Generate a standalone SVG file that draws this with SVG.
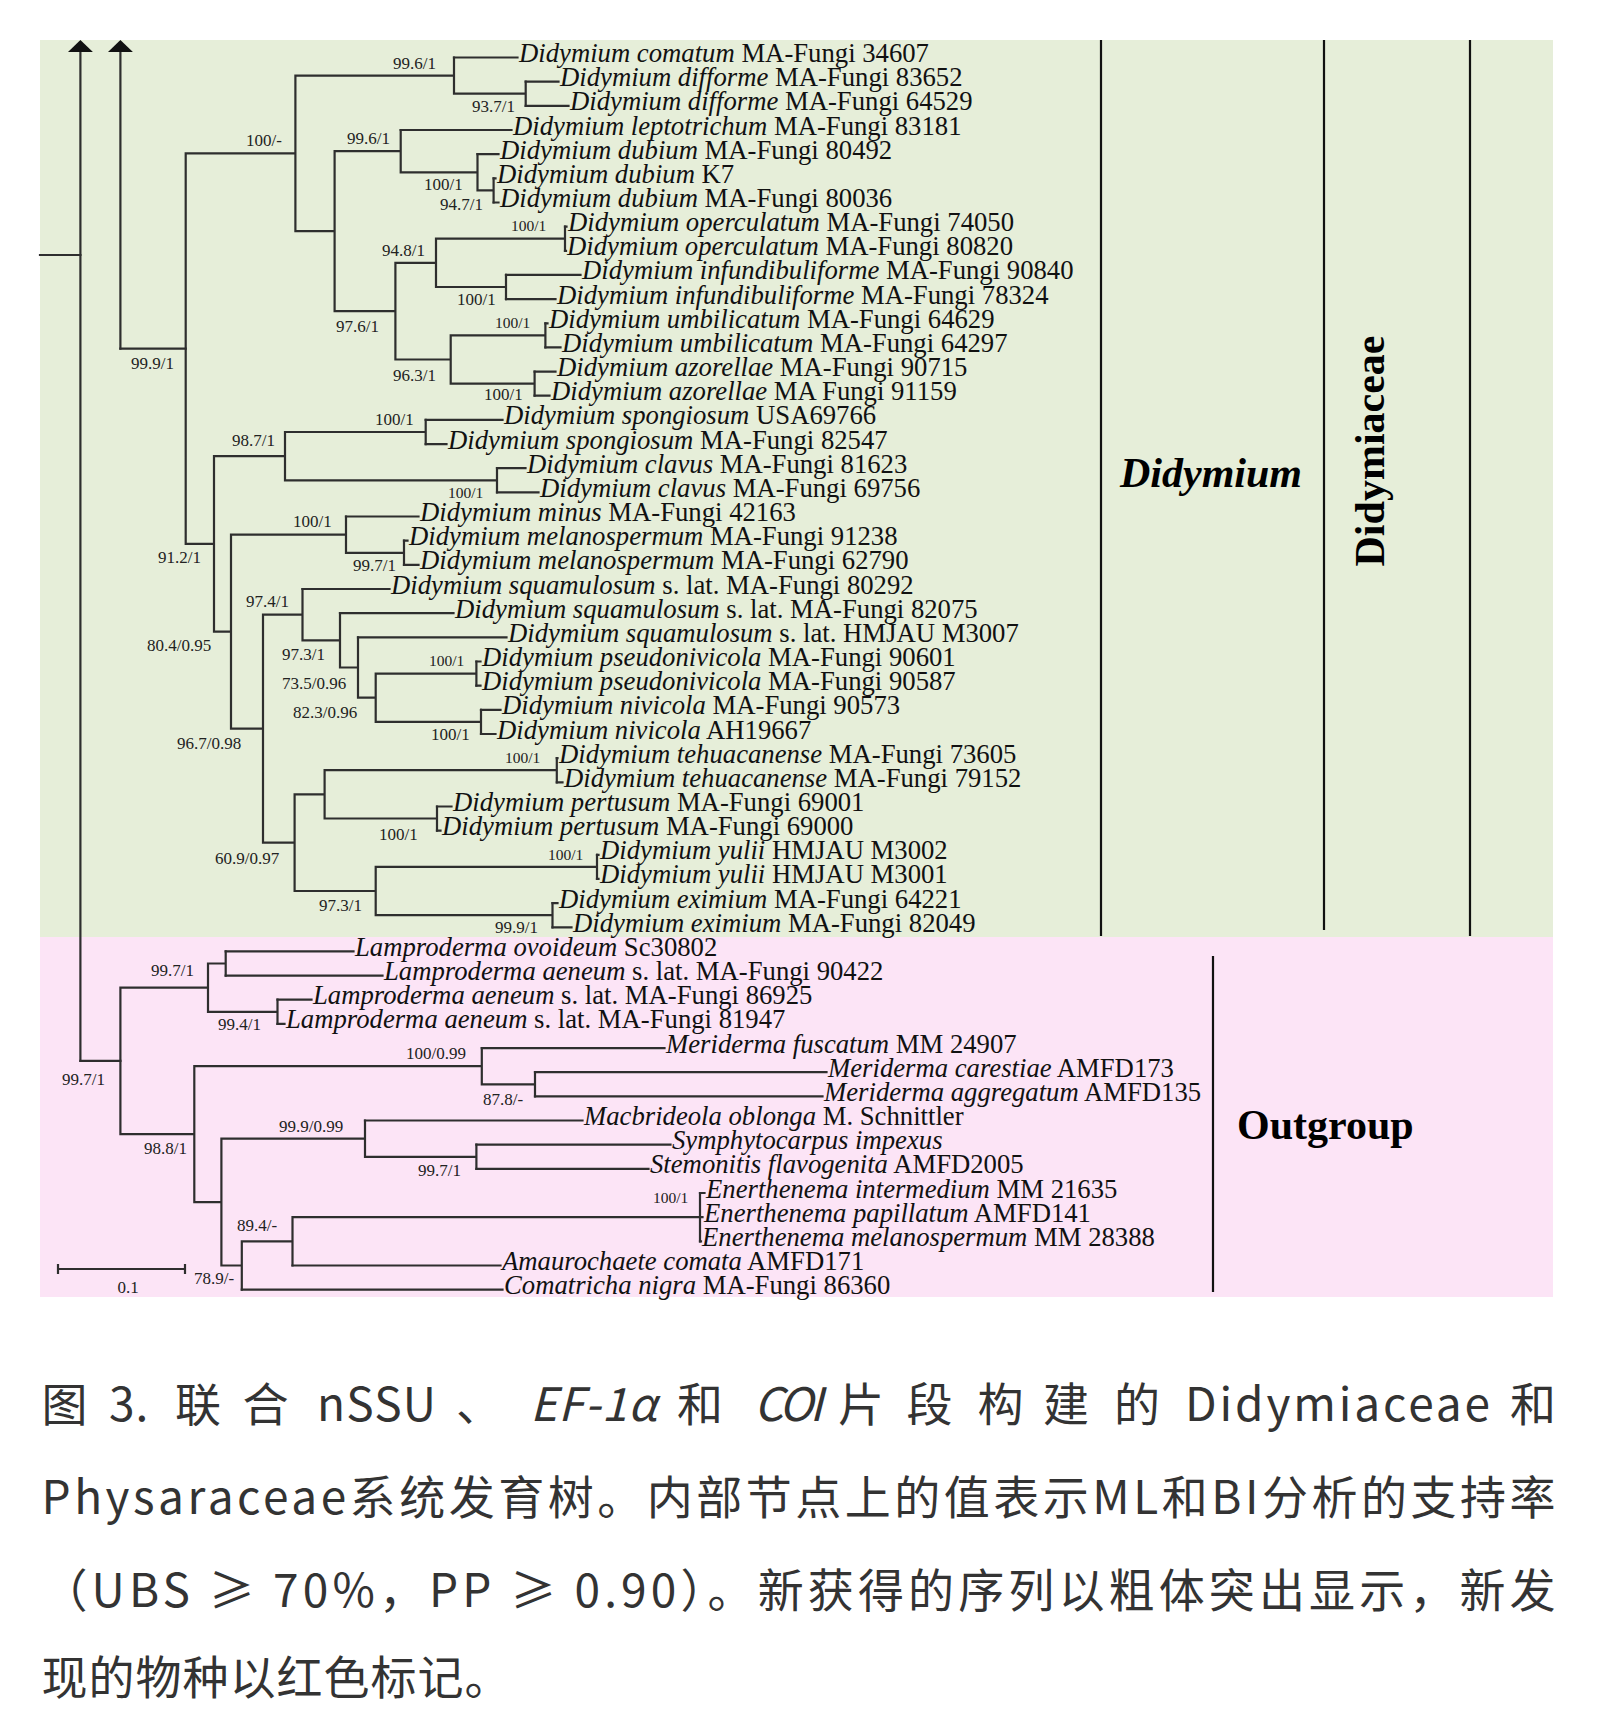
<svg xmlns="http://www.w3.org/2000/svg" width="1600" height="1712" viewBox="0 0 1600 1712">
<defs>
<style>
.br{fill:none;stroke:#2e2e2e;stroke-width:2.2;stroke-linecap:square}
.rl{fill:none;stroke:#111;stroke-width:2.2}
.lf{font-family:"Liberation Serif","Times New Roman",serif;font-size:26.7px;fill:#111}
.i{font-style:italic}
.sv{font-family:"Liberation Serif","Times New Roman",serif;font-size:17px;fill:#222}
.ss{font-size:15.5px}
.cl{font-family:"Liberation Serif","Times New Roman",serif;font-weight:bold;font-size:42px;fill:#000}
.cap{font-family:"Noto Sans CJK SC","Noto Sans",sans-serif;font-size:46px;fill:#333;letter-spacing:1px}
</style>
<marker id="arr" viewBox="0 0 12 25" refX="0" refY="12.5" markerWidth="12" markerHeight="25" markerUnits="userSpaceOnUse" orient="auto"><path d="M0 0L12 12.5L0 25z" fill="#111"/></marker>
</defs>
<rect x="0" y="0" width="1600" height="1712" fill="#fff"/>
<rect id="bg-didymium" x="40" y="40" width="1513" height="897" fill="#e6eed9"/>
<rect id="bg-outgroup" x="40" y="937" width="1513" height="360" fill="#fce4f6"/>

<g id="connectors">
<path class="br" marker-end="url(#arr)" d="M80.4 1060.9V52"/>
<path class="br" marker-end="url(#arr)" d="M120.4 348.7V52"/>
<path class="br" d="M40 255H80.4 M80.4 1060.9H120.4 M120.4 348.7H185.7"/>
<path class="br" d="
M525.7 81.7V105.8 M454 93.7H525.7
M454 57.5V93.7 M295.4 75.6H454
M493.6 178.3V202.5 M477.5 190.4H493.6
M477.5 154.1V190.4 M400.7 172.3H477.5
M400.7 130V172.3 M334.6 151.1H400.7
M565 226.6V250.8 M436 238.7H565
M506 274.9V299.1 M436 287H506
M436 238.7V287 M395.4 262.9H436
M545.4 323.3V347.4 M450.7 335.3H545.4
M534.6 371.6V395.7 M450.7 383.7H534.6
M450.7 335.3V383.7 M395.4 359.5H450.7
M395.4 262.9V359.5 M334.6 311.2H395.4
M334.6 151.1V311.2 M295.4 231.2H334.6
M295.4 75.6V231.2 M185.7 153.4H295.4
M425.7 419.9V444.1 M285 432H425.7
M497 468.2V492.4 M285 480.3H497
M285 432V480.3 M214 456.1H285
M404 540.7V564.9 M346 552.8H404
M346 516.5V552.8 M231 534.7H346
M476.4 661.5V685.7 M375.7 673.6H476.4
M481 709.8V734 M375.7 721.9H481
M375.7 673.6V721.9 M358 697.7H375.7
M358 637.3V697.7 M340 667.5H358
M340 613.2V667.5 M302.5 640.4H340
M302.5 589V640.4 M263 614.7H302.5
M556.8 758.1V782.3 M324.6 770.2H556.8
M437 806.5V830.6 M324.6 818.5H437
M324.6 770.2V818.5 M294.6 794.4H324.6
M597 854.8V878.9 M375.7 866.9H597
M552.5 903.1V927.3 M375.7 915.2H552.5
M375.7 866.9V915.2 M294.6 891H375.7
M294.6 794.4V891 M263 842.7H294.6
M263 614.7V842.7 M231 728.7H263
M231 534.7V728.7 M214 631.7H231
M214 456.1V631.7 M185.7 543.9H214
M185.7 153.4V543.9"/>
<path class="br" d="
M225.7 951.4V975.6 M208 963.5H225.7
M277.5 999.7V1023.9 M208 1011.8H277.5
M208 963.5V1011.8 M120.4 987.7H208
M535 1072.2V1096.4 M481.8 1084.3H535
M481.8 1048.1V1084.3 M194.3 1066.2H481.8
M476.4 1144.7V1168.9 M365 1156.8H476.4
M365 1120.5V1156.8 M221.4 1138.7H365
M700 1193V1241.3 M292.5 1217.2H700
M292.5 1217.2V1265.5 M241.8 1241.3H292.5
M241.8 1241.3V1289.7 M221.4 1265.5H241.8
M221.4 1138.7V1265.5 M194.3 1202.1H221.4
M194.3 1066.2V1202.1 M120.4 1134.1H194.3
M120.4 987.7V1134.1"/>
<path class="br" d="
M454 57.5H517.5 M525.7 81.7H558.5 M525.7 105.8H568.5 M400.7 130H511.5
M477.5 154.1H498.5 M493.6 178.3H495.5 M493.6 202.5H498.5 M565 226.6H566.5
M565 250.8H566 M506 274.9H580.5 M506 299.1H555.5 M545.4 323.3H547.5
M545.4 347.4H560.5 M534.6 371.6H555.5 M534.6 395.7H549.5 M425.7 419.9H502.5
M425.7 444.1H446.5 M497 468.2H525.5 M497 492.4H538.5 M346 516.5H418.5
M404 540.7H407.5 M404 564.9H418.5 M302.5 589H389.5 M340 613.2H453.5
M358 637.3H506.5 M476.4 661.5H480.5 M476.4 685.7H480.5 M481 709.8H500.5
M481 734H495.5 M556.8 758.1H557.5 M556.8 782.3H562.5 M437 806.5H451.5
M437 830.6H440.5 M597 854.8H598.5 M597 878.9H598.5 M552.5 903.1H557.5
M552.5 927.3H571.5 M225.7 951.4H353.5 M225.7 975.6H382.5 M277.5 999.7H311.5
M277.5 1023.9H284.5 M481.8 1048.1H664.5 M535 1072.2H826.5 M535 1096.4H822.5
M365 1120.5H582.5 M476.4 1144.7H670.5 M476.4 1168.9H648.5 M700 1193H704.5
M700 1217.2H702.5 M700 1241.3H701 M292.5 1265.5H500.5 M241.8 1289.7H502.5"/>
</g>

<g id="leaves" class="lf" transform="translate(0 -3.5)">
<g id="leaf-1"><text x="519" y="65.5"><tspan class="i">Didymium comatum</tspan> MA-Fungi 34607</text></g>
<g id="leaf-2"><text x="560" y="89.7"><tspan class="i">Didymium difforme</tspan> MA-Fungi 83652</text></g>
<g id="leaf-3"><text x="570" y="113.8"><tspan class="i">Didymium difforme</tspan> MA-Fungi 64529</text></g>
<g id="leaf-4"><text x="513" y="138"><tspan class="i">Didymium leptotrichum</tspan> MA-Fungi 83181</text></g>
<g id="leaf-5"><text x="500" y="162.1"><tspan class="i">Didymium dubium</tspan> MA-Fungi 80492</text></g>
<g id="leaf-6"><text x="497" y="186.3"><tspan class="i">Didymium dubium</tspan> K7</text></g>
<g id="leaf-7"><text x="500" y="210.5"><tspan class="i">Didymium dubium</tspan> MA-Fungi 80036</text></g>
<g id="leaf-8"><text x="568" y="234.6"><tspan class="i">Didymium operculatum</tspan> MA-Fungi 74050</text></g>
<g id="leaf-9"><text x="567" y="258.8"><tspan class="i">Didymium operculatum</tspan> MA-Fungi 80820</text></g>
<g id="leaf-10"><text x="582" y="282.9"><tspan class="i">Didymium infundibuliforme</tspan> MA-Fungi 90840</text></g>
<g id="leaf-11"><text x="557" y="307.1"><tspan class="i">Didymium infundibuliforme</tspan> MA-Fungi 78324</text></g>
<g id="leaf-12"><text x="549" y="331.3"><tspan class="i">Didymium umbilicatum</tspan> MA-Fungi 64629</text></g>
<g id="leaf-13"><text x="562" y="355.4"><tspan class="i">Didymium umbilicatum</tspan> MA-Fungi 64297</text></g>
<g id="leaf-14"><text x="557" y="379.6"><tspan class="i">Didymium azorellae</tspan> MA-Fungi 90715</text></g>
<g id="leaf-15"><text x="551" y="403.7"><tspan class="i">Didymium azorellae</tspan> MA Fungi 91159</text></g>
<g id="leaf-16"><text x="504" y="427.9"><tspan class="i">Didymium spongiosum</tspan> USA69766</text></g>
<g id="leaf-17"><text x="448" y="452.1"><tspan class="i">Didymium spongiosum</tspan> MA-Fungi 82547</text></g>
<g id="leaf-18"><text x="527" y="476.2"><tspan class="i">Didymium clavus</tspan> MA-Fungi 81623</text></g>
<g id="leaf-19"><text x="540" y="500.4"><tspan class="i">Didymium clavus</tspan> MA-Fungi 69756</text></g>
<g id="leaf-20"><text x="420" y="524.5"><tspan class="i">Didymium minus</tspan> MA-Fungi 42163</text></g>
<g id="leaf-21"><text x="409" y="548.7"><tspan class="i">Didymium melanospermum</tspan> MA-Fungi 91238</text></g>
<g id="leaf-22"><text x="420" y="572.9"><tspan class="i">Didymium melanospermum</tspan> MA-Fungi 62790</text></g>
<g id="leaf-23"><text x="391" y="597"><tspan class="i">Didymium squamulosum</tspan> s. lat. MA-Fungi 80292</text></g>
<g id="leaf-24"><text x="455" y="621.2"><tspan class="i">Didymium squamulosum</tspan> s. lat. MA-Fungi 82075</text></g>
<g id="leaf-25"><text x="508" y="645.3"><tspan class="i">Didymium squamulosum</tspan> s. lat. HMJAU M3007</text></g>
<g id="leaf-26"><text x="482" y="669.5"><tspan class="i">Didymium pseudonivicola</tspan> MA-Fungi 90601</text></g>
<g id="leaf-27"><text x="482" y="693.7"><tspan class="i">Didymium pseudonivicola</tspan> MA-Fungi 90587</text></g>
<g id="leaf-28"><text x="502" y="717.8"><tspan class="i">Didymium nivicola</tspan> MA-Fungi 90573</text></g>
<g id="leaf-29"><text x="497" y="742"><tspan class="i">Didymium nivicola</tspan> AH19667</text></g>
<g id="leaf-30"><text x="559" y="766.1"><tspan class="i">Didymium tehuacanense</tspan> MA-Fungi 73605</text></g>
<g id="leaf-31"><text x="564" y="790.3"><tspan class="i">Didymium tehuacanense</tspan> MA-Fungi 79152</text></g>
<g id="leaf-32"><text x="453" y="814.5"><tspan class="i">Didymium pertusum</tspan> MA-Fungi 69001</text></g>
<g id="leaf-33"><text x="442" y="838.6"><tspan class="i">Didymium pertusum</tspan> MA-Fungi 69000</text></g>
<g id="leaf-34"><text x="600" y="862.8"><tspan class="i">Didymium yulii</tspan> HMJAU M3002</text></g>
<g id="leaf-35"><text x="600" y="886.9"><tspan class="i">Didymium yulii</tspan> HMJAU M3001</text></g>
<g id="leaf-36"><text x="559" y="911.1"><tspan class="i">Didymium eximium</tspan> MA-Fungi 64221</text></g>
<g id="leaf-37"><text x="573" y="935.3"><tspan class="i">Didymium eximium</tspan> MA-Fungi 82049</text></g>
<g id="leaf-38"><text x="355" y="959.4"><tspan class="i">Lamproderma ovoideum</tspan> Sc30802</text></g>
<g id="leaf-39"><text x="384" y="983.6"><tspan class="i">Lamproderma aeneum</tspan> s. lat. MA-Fungi 90422</text></g>
<g id="leaf-40"><text x="313" y="1007.7"><tspan class="i">Lamproderma aeneum</tspan> s. lat. MA-Fungi 86925</text></g>
<g id="leaf-41"><text x="286" y="1031.9"><tspan class="i">Lamproderma aeneum</tspan> s. lat. MA-Fungi 81947</text></g>
<g id="leaf-42"><text x="666" y="1056.1"><tspan class="i">Meriderma fuscatum</tspan> MM 24907</text></g>
<g id="leaf-43"><text x="828" y="1080.2"><tspan class="i">Meriderma carestiae</tspan> AMFD173</text></g>
<g id="leaf-44"><text x="824" y="1104.4"><tspan class="i">Meriderma aggregatum</tspan> AMFD135</text></g>
<g id="leaf-45"><text x="584" y="1128.5"><tspan class="i">Macbrideola oblonga</tspan> M. Schnittler</text></g>
<g id="leaf-46"><text x="672" y="1152.7"><tspan class="i">Symphytocarpus impexus</tspan></text></g>
<g id="leaf-47"><text x="650" y="1176.9"><tspan class="i">Stemonitis flavogenita</tspan> AMFD2005</text></g>
<g id="leaf-48"><text x="706" y="1201"><tspan class="i">Enerthenema intermedium</tspan> MM 21635</text></g>
<g id="leaf-49"><text x="704" y="1225.2"><tspan class="i">Enerthenema papillatum</tspan> AMFD141</text></g>
<g id="leaf-50"><text x="702" y="1249.3"><tspan class="i">Enerthenema melanospermum</tspan> MM 28388</text></g>
<g id="leaf-51"><text x="502" y="1273.5"><tspan class="i">Amaurochaete comata</tspan> AMFD171</text></g>
<g id="leaf-52"><text x="504" y="1297.7"><tspan class="i">Comatricha nigra</tspan> MA-Fungi 86360</text></g>
</g>

<g id="supports" class="sv">
<text x="393" y="69">99.6/1</text>
<text x="472" y="112">93.7/1</text>
<text x="246" y="146">100/-</text>
<text x="347" y="144">99.6/1</text>
<text x="424" y="190">100/1</text>
<text x="440" y="210">94.7/1</text>
<text class="ss" x="511" y="231">100/1</text>
<text x="382" y="256">94.8/1</text>
<text x="457" y="305">100/1</text>
<text x="336" y="332">97.6/1</text>
<text class="ss" x="495" y="328">100/1</text>
<text x="393" y="381">96.3/1</text>
<text x="484" y="400">100/1</text>
<text x="131" y="369">99.9/1</text>
<text x="375" y="425">100/1</text>
<text x="232" y="446">98.7/1</text>
<text class="ss" x="448" y="498">100/1</text>
<text x="158" y="563">91.2/1</text>
<text x="293" y="527">100/1</text>
<text x="353" y="571">99.7/1</text>
<text x="147" y="651">80.4/0.95</text>
<text x="246" y="607">97.4/1</text>
<text x="282" y="660">97.3/1</text>
<text x="282" y="689">73.5/0.96</text>
<text class="ss" x="429" y="666">100/1</text>
<text x="293" y="718">82.3/0.96</text>
<text x="431" y="740">100/1</text>
<text x="177" y="749">96.7/0.98</text>
<text class="ss" x="505" y="763">100/1</text>
<text x="379" y="840">100/1</text>
<text x="215" y="864">60.9/0.97</text>
<text class="ss" x="548" y="860">100/1</text>
<text x="319" y="911">97.3/1</text>
<text x="495" y="933">99.9/1</text>
<text x="151" y="976">99.7/1</text>
<text x="218" y="1030">99.4/1</text>
<text x="62" y="1085">99.7/1</text>
<text x="406" y="1059">100/0.99</text>
<text x="483" y="1105">87.8/-</text>
<text x="279" y="1132">99.9/0.99</text>
<text x="144" y="1154">98.8/1</text>
<text x="418" y="1176">99.7/1</text>
<text class="ss" x="653" y="1203">100/1</text>
<text x="237" y="1231">89.4/-</text>
<text x="194" y="1284">78.9/-</text>
</g>

<g id="scale-bar">
<path class="br" d="M58 1269H185 M58 1265V1273 M185 1265V1273"/>
<text class="sv" x="128" y="1293" text-anchor="middle">0.1</text>
</g>

<g id="clade-labels">
<path class="rl" d="M1101 40V936 M1324 40V930 M1470 40V936 M1213 956V1292"/>
<text class="cl i" x="1120" y="487">Didymium</text>
<text class="cl" transform="translate(1384 451) rotate(-90)" text-anchor="middle">Didymiaceae</text>
<text class="cl" x="1237" y="1139">Outgroup</text>
</g>

<g id="caption" class="cap">
<text y="1421"><tspan x="41.5">图</tspan><tspan x="109">3.</tspan><tspan x="175">联</tspan><tspan x="242.5">合</tspan><tspan x="317" textLength="120">nSSU</tspan><tspan x="456">、</tspan><tspan x="530" font-style="italic">EF-1α</tspan><tspan x="677">和</tspan><tspan x="754" font-style="italic" textLength="70">COI</tspan><tspan x="838">片</tspan><tspan x="906.5">段</tspan><tspan x="977.5">构</tspan><tspan x="1043">建</tspan><tspan x="1114">的</tspan><tspan x="1185" textLength="306">Didymiaceae</tspan><tspan x="1510">和</tspan></text>
<text x="41.5" y="1514" textLength="1515" lengthAdjust="spacing">Physaraceae系统发育树。内部节点上的值表示ML和BI分析的支持率</text>
<text x="41.5" y="1607" textLength="1515" lengthAdjust="spacing">（UBS ≥ 70%，PP ≥ 0.90）。新获得的序列以粗体突出显示，新发</text>
<text x="41.5" y="1694">现的物种以红色标记。</text>
</g>
</svg>
